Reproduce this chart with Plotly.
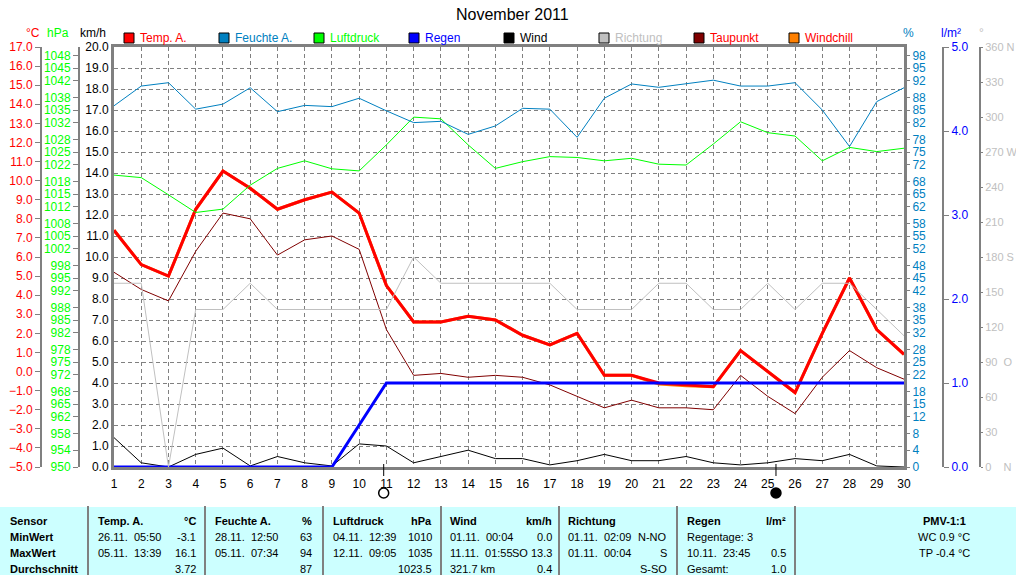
import plotly.graph_objects as go

# Tageswerte November 2011
days = list(range(1, 31))
temp = [7.4, 5.6, 5.0, 8.5, 10.5, 9.6, 8.5, 9.0, 9.4, 8.3,
        4.5, 2.6, 2.6, 2.9, 2.7, 1.9, 1.4, 2.0, -0.2, -0.2,
        -0.6, -0.7, -0.8, 1.1, 0.0, -1.1, 2.0, 4.9, 2.2, 0.9]
windchill = [7.4, 5.6, 5.0, 8.5, 10.5, 9.6, 8.5, 9.0, 9.4, 8.3,
             4.5, 2.6, 2.6, 2.9, 2.7, 1.9, 1.4, 2.0, -0.2, -0.2,
             -0.65, -0.75, -0.8, 1.1, 0.0, -1.1, 2.0, 4.9, 2.2, 0.9]
taupunkt = [5.2, 4.3, 3.7, 6.3, 8.3, 8.0, 6.1, 6.9, 7.1, 6.4,
            2.2, -0.2, -0.1, -0.3, -0.2, -0.3, -0.7, -1.3, -1.9, -1.5,
            -1.9, -1.9, -2.0, -0.2, -1.3, -2.2, -0.3, 1.1, 0.2, -0.4]
feuchte = [86.0, 90.7, 91.5, 85.2, 86.4, 90.3, 84.6, 86.1, 85.8, 87.8,
           84.8, 82.0, 82.3, 79.2, 81.2, 85.4, 85.2, 78.5, 87.8, 91.2,
           90.4, 91.2, 92.1, 90.7, 90.7, 91.5, 85.0, 76.3, 87.0, 90.3]
luftdruck = [1019.5, 1018.9, 1014.8, 1010.6, 1011.4, 1017.1, 1021.1, 1022.9, 1021.0, 1020.5,
             1026.7, 1033.3, 1032.9, 1026.7, 1021.1, 1022.7, 1023.9, 1023.7, 1022.9, 1023.5,
             1022.1, 1021.9, 1026.9, 1032.2, 1029.6, 1028.8, 1022.9, 1026.1, 1025.1, 1025.9]
regen = [0.0, 0.0, 0.0, 0.0, 0.0, 0.0, 0.0, 0.0, 0.0, 0.5,
         1.0, 1.0, 1.0, 1.0, 1.0, 1.0, 1.0, 1.0, 1.0, 1.0,
         1.0, 1.0, 1.0, 1.0, 1.0, 1.0, 1.0, 1.0, 1.0, 1.0]
wind = [1.4, 0.2, 0.0, 0.6, 0.9, 0.05, 0.5, 0.2, 0.05, 1.1,
        1.0, 0.2, 0.5, 0.8, 0.4, 0.4, 0.1, 0.3, 0.6, 0.3,
        0.3, 0.5, 0.2, 0.1, 0.2, 0.4, 0.3, 0.6, 0.05, 0.0]
richtung = [157.5, 157.5, 0, 135, 135, 157.5, 135, 135, 135, 135,
            135, 180, 157.5, 157.5, 157.5, 157.5, 157.5, 135, 135, 135,
            157.5, 157.5, 135, 135, 157.5, 135, 157.5, 157.5, 135, 112.5]

# Mondphasen (Vollmond / Neumond)
mond_tage = [10.9, 25.3]
mond_fuellung = ["white", "black"]

# Achsenbeschriftungen
pct_ticks = [0, 4, 8, 12, 15, 18, 22, 25, 28, 32, 35, 38, 42, 45, 48,
             52, 55, 58, 62, 65, 68, 72, 75, 78, 82, 85, 88, 92, 95, 98]
hpa_ticks = [950, 954, 958, 962, 965, 968, 972, 975, 978, 982, 985, 988, 992, 995, 998,
             1002, 1005, 1008, 1012, 1015, 1018, 1022, 1025, 1028, 1032, 1035, 1038, 1042, 1045, 1048]
dir_ticks = [0, 30, 60, 90, 120, 150, 180, 210, 240, 270, 300, 330, 360]
dir_text = ["0\u00a0\u00a0\u00a0\u00a0N", "30", "60", "90\u00a0\u00a0O", "120", "150",
            "180 S", "210", "240", "270 W", "300", "330", "360 N"]

legend_names = ["Temp. A.", "Feuchte A.", "Luftdruck", "Regen", "Wind", "Richtung", "Taupunkt", "Windchill"]
legend_box = ["#ff0000", "#0080c0", "#00ff00", "#0000ff", "#000000", "#c0c0c0", "#800000", "#ff8000"]
legend_text = ["#ff0000", "#0080c0", "#00ff00", "#0000ff", "#000000", "#c0c0c0", "#ff0000", "#ff0000"]

# Tabelle unten
tabelle_links = [
    ["Sensor", "MinWert", "MaxWert", "Durchschnitt"],
    ["Temp. A.", "26.11.  05:50", "05.11.  13:39", ""],
    ["Feuchte A.", "28.11.  12:50", "05.11.  07:34", ""],
    ["Luftdruck", "04.11.  12:39", "12.11.  09:05", ""],
    ["Wind", "01.11.  00:04", "11.11.  01:55", "321.7 km"],
    ["Richtung", "01.11.  02:09", "01.11.  00:04", ""],
    ["Regen", "Regentage: 3", "10.11.  23:45", "Gesamt:"],
]
tabelle_rechts = [
    ["°C", "-3.1", "16.1", "3.72"],
    ["%", "63", "94", "87"],
    ["hPa", "1010", "1035", "1023.5"],
    ["km/h", "0.0", "SO 13.3", "0.4"],
    ["", "N-NO", "S", "S-SO"],
    ["l/m²", "", "0.5", "1.0"],
]
pmv = ["PMV-1:1", "WC 0.9 °C", "TP -0.4 °C"]

W, H = 1016, 575
X_LEFT, X_RIGHT = 114, 904
Y_TOP, Y_BOTTOM = 47, 467


def px(x):
    return x / W


def py(y):
    return 1 - y / H


FONT = "Liberation Sans, Arial, sans-serif"

fig = go.Figure()

fig.add_trace(go.Scatter(x=days, y=richtung, yaxis="y6", mode="lines",
                         line=dict(color="#c0c0c0", width=1)))
fig.add_trace(go.Scatter(x=days, y=wind, yaxis="y", mode="lines",
                         line=dict(color="#000000", width=1)))
fig.add_trace(go.Scatter(x=days, y=feuchte, yaxis="y4", mode="lines",
                         line=dict(color="#0080c0", width=1)))
fig.add_trace(go.Scatter(x=days, y=luftdruck, yaxis="y3", mode="lines",
                         line=dict(color="#00ff00", width=1)))
fig.add_trace(go.Scatter(x=days, y=taupunkt, yaxis="y2", mode="lines",
                         line=dict(color="#800000", width=1)))
fig.add_trace(go.Scatter(x=days, y=regen, yaxis="y5", mode="lines",
                         line=dict(color="#0000ff", width=3)))
fig.add_trace(go.Scatter(x=days, y=windchill, yaxis="y2", mode="lines",
                         line=dict(color="#ff8000", width=3)))
fig.add_trace(go.Scatter(x=days, y=temp, yaxis="y2", mode="lines",
                         line=dict(color="#ff0000", width=3)))

grid_dash = "4px,3px"
ydom = [py(Y_BOTTOM), py(Y_TOP)]

fig.update_layout(
    width=W, height=H,
    margin=dict(l=0, r=0, t=0, b=0, autoexpand=False),
    paper_bgcolor="white",
    plot_bgcolor="white",
    showlegend=False,
    font=dict(family=FONT, size=12, color="black"),
    xaxis=dict(domain=[px(X_LEFT), px(X_RIGHT)], range=[1, 30], tickmode="linear", tick0=1, dtick=1,
               showgrid=True, gridcolor="#808080", griddash=grid_dash, gridwidth=1,
               showline=True, linecolor="#808080", linewidth=3, mirror=True, automargin=False,
               zeroline=False, ticks="outside", ticklen=4, tickcolor="white",
               tickfont=dict(size=12, color="black")),
    yaxis=dict(domain=ydom, range=[0, 20], tickmode="linear", tick0=0, dtick=1, tickformat=".1f",
               showgrid=True, gridcolor="#808080", griddash=grid_dash, gridwidth=1,
               showline=True, linecolor="#808080", linewidth=3, mirror=True, automargin=False,
               zeroline=False, ticks="", tickfont=dict(size=12, color="black")),
    yaxis2=dict(overlaying="y", anchor="free", position=px(41), side="left", range=[-5, 17],
                tickmode="linear", tick0=-5, dtick=1, tickformat=".1f", showgrid=False, zeroline=False,
                showline=True, linecolor="#808080", linewidth=2, ticks="outside", ticklen=5,
                automargin=False, tickcolor="#808080", tickfont=dict(size=12, color="#ff0000")),
    yaxis3=dict(overlaying="y", anchor="free", position=px(79), side="left", range=[950, 1050],
                tickmode="array", tickvals=hpa_ticks, showgrid=False, zeroline=False,
                showline=True, linecolor="#808080", linewidth=2, ticks="outside", ticklen=5,
                automargin=False, tickcolor="#808080", tickfont=dict(size=12, color="#00ff00")),
    yaxis4=dict(overlaying="y", anchor="x", side="right", range=[0, 100],
                tickmode="array", tickvals=pct_ticks, showgrid=False, zeroline=False,
                ticks="outside", ticklen=5, tickcolor="#808080", automargin=False,
                tickfont=dict(size=12, color="#0080c0")),
    yaxis5=dict(overlaying="y", anchor="free", position=px(943), side="right", range=[0, 5],
                tickmode="linear", tick0=0, dtick=1, tickformat=".1f", showgrid=False, zeroline=False,
                showline=True, linecolor="#808080", linewidth=2, ticks="outside", ticklen=5,
                automargin=False, tickcolor="#808080", tickfont=dict(size=12, color="#0000ff")),
    yaxis6=dict(overlaying="y", anchor="free", position=px(980), side="right", range=[0, 360],
                tickmode="array", tickvals=dir_ticks, ticktext=dir_text, showgrid=False, zeroline=False,
                showline=True, linecolor="#808080", linewidth=2, ticks="outside", ticklen=2,
                automargin=False, tickcolor="#808080", tickfont=dict(size=11, color="#c0c0c0")),
)

shapes = []
annotations = []


def label(x, y, text, color="black", size=12, anchor="center"):
    annotations.append(dict(x=px(x), y=py(y), xref="paper", yref="paper", text=text,
                            xanchor=anchor, yanchor="middle", showarrow=False,
                            font=dict(size=size, color=color)))


# Titel
label(512, 15, "November 2011", size=16)

# Einheiten über den Achsen
units = [("°C", 33, "#ff0000"), ("hPa", 58, "#00ff00"), ("km/h", 93, "#000000"),
         ("%", 908, "#0080c0"), ("l/m²", 951, "#0000ff"), ("°", 981, "#c0c0c0")]
for txt, x, col in units:
    label(x, 33, txt, color=col)

# Legende
for i, name in enumerate(legend_names):
    x0 = 124 + i * 95
    shapes.append(dict(type="rect", xref="paper", yref="paper", x0=px(x0), x1=px(x0 + 10),
                       y0=py(43), y1=py(33), fillcolor=legend_box[i], line=dict(color="black", width=1)))
    label(x0 + 14, 38, name, color=legend_text[i], anchor="left")

# Mondphasen: Strich unter der Achse und Kreis
r_day = 5 / ((X_RIGHT - X_LEFT) / 29)
for d, fill in zip(mond_tage, mond_fuellung):
    shapes.append(dict(type="line", xref="x", yref="paper", x0=d, x1=d, y0=py(464), y1=py(476),
                       line=dict(color="black", width=1)))
    shapes.append(dict(type="circle", xref="x", yref="paper", x0=d - r_day, x1=d + r_day,
                       y0=py(498), y1=py(488), fillcolor=fill, line=dict(color="black", width=1.5)))

# Tabelle
shapes.append(dict(type="rect", xref="paper", yref="paper", x0=0, x1=1, y0=0, y1=py(507),
                   fillcolor="#ccffff", line=dict(width=0), layer="below"))
for x in [88, 205, 323, 441, 559, 677, 795]:
    shapes.append(dict(type="line", xref="paper", yref="paper", x0=px(x), x1=px(x), y0=0, y1=py(506),
                       line=dict(color="#808080", width=2)))

row_y = [521, 537, 553, 569]
left_x = [8, 96, 213, 331, 448, 566, 685]
right_x = [198, 314, 434, 554, 669, 788]
for c, col in enumerate(tabelle_links):
    for r, txt in enumerate(col):
        if not txt:
            continue
        bold = r == 0 or c == 0
        label(left_x[c], row_y[r], "<b>%s</b>" % txt if bold else txt.replace("  ", "\u00a0\u00a0"),
              size=11, anchor="left")
for c, col in enumerate(tabelle_rechts):
    for r, txt in enumerate(col):
        if not txt:
            continue
        label(right_x[c], row_y[r], "<b>%s</b>" % txt if r == 0 else txt, size=11, anchor="right")
for r, txt in enumerate(pmv):
    label(944, row_y[r], "<b>%s</b>" % txt if r == 0 else txt, size=11)

fig.update_layout(shapes=shapes, annotations=annotations)

fig.write_html("out.html", config={"displayModeBar": False},
               post_script="document.body.style.margin='0';")
